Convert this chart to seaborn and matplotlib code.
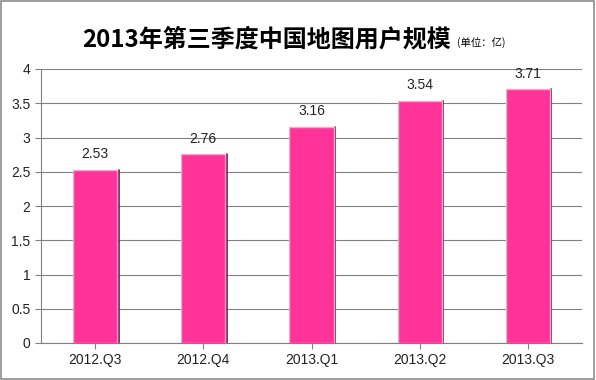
import matplotlib
matplotlib.use("Agg")
import matplotlib.pyplot as plt
import seaborn as sns
import pandas as pd

quarters = ["2012.Q3", "2012.Q4", "2013.Q1", "2013.Q2", "2013.Q3"]
users = [2.53, 2.76, 3.16, 3.54, 3.71]
title_main = "2013年第三季度中国地图用户规模"
title_unit = "(单位：亿)"

sns.set_style("white")
plt.rcParams['font.family'] = ['Noto Sans CJK SC', 'DejaVu Sans']

df = pd.DataFrame({"quarter": quarters, "users": users})

fig = plt.figure(figsize=(5.96, 3.8), dpi=100)
ax = fig.add_axes([41/596, 1-343/380, (582-41)/596, (343-69)/380])

sns.barplot(x="quarter", y="users", data=df, color="#FF3399", width=0.41,
            saturation=1, edgecolor="#F7A8D0", linewidth=1, ax=ax, zorder=3)

# dark shadow on the right side of each bar
for p in ax.patches:
    ax.plot([p.get_x() + p.get_width() + 0.012] * 2, [0, p.get_height()],
            color="#5a2040", linewidth=1.2, zorder=2)

for i, v in enumerate(users):
    ax.text(i, v + 0.12, f"{v:.2f}", ha="center", va="bottom", fontsize=10,
            color="#222222", family=["Liberation Sans", "DejaVu Sans"])

ax.set_ylim(0, 4)
ax.set_xlim(-0.5, 4.5)
ax.set_yticks([0, 0.5, 1, 1.5, 2, 2.5, 3, 3.5, 4])
ax.set_yticklabels(["0", "0.5", "1", "1.5", "2", "2.5", "3", "3.5", "4"])
ax.yaxis.grid(True, color="#808080", linewidth=0.8, zorder=0)
ax.set_axisbelow(True)
ax.set_xlabel("")
ax.set_ylabel("")
for s in ["top", "right"]:
    ax.spines[s].set_visible(False)
for s in ["left", "bottom"]:
    ax.spines[s].set_color("#808080")
    ax.spines[s].set_linewidth(0.8)
ax.tick_params(axis="both", colors="#808080", length=4, direction="out",
               left=True, bottom=True, labelsize=10, labelcolor="#222222")
for lbl in ax.get_xticklabels() + ax.get_yticklabels():
    lbl.set_family(["Liberation Sans", "DejaVu Sans"])

fig.text(0.447, 0.895, title_main, ha="center", va="center", fontsize=17.3,
         fontweight="bold", color="black")
fig.text(0.766, 0.887, title_unit, ha="left", va="center", fontsize=7.5,
         color="black")

fig.patches.append(plt.Rectangle((0.002, 0.003), 0.995, 0.994, transform=fig.transFigure,
                                 fill=False, edgecolor="#8c8c8c", linewidth=1.2))

fig.savefig("out.png", dpi=100)
